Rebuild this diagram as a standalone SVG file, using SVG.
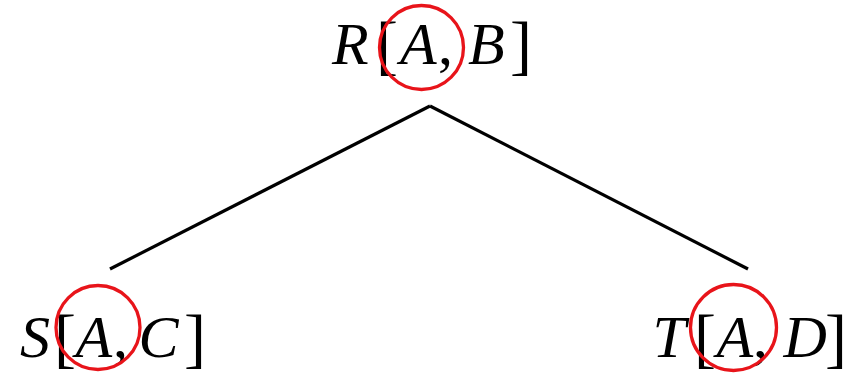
<svg xmlns="http://www.w3.org/2000/svg" width="846" height="373" viewBox="0 0 846 373">
<style>
.t{font-family:"Liberation Serif","Times New Roman",serif;font-size:60px;fill:#000}
.i{font-style:italic}
.b{font-size:66px}
.ring{fill:none;stroke:#e8141a;stroke-width:3.3}
.edge{stroke:#000;stroke-width:3.2;fill:none;stroke-linecap:butt}
</style>
<rect width="846" height="373" fill="#fff"/>
<g id="connectors">
<line class="edge" x1="430" y1="106" x2="110" y2="269"/>
<line class="edge" x1="430" y1="106" x2="748" y2="269"/>
</g>
<g id="R">
<text class="t" y="64"><tspan class="i" x="332">R</tspan><tspan class="b" x="376" y="67">[</tspan><tspan class="i" x="400" y="64">A</tspan><tspan x="438">,</tspan><tspan class="i" x="468">B</tspan><tspan class="b" x="510" y="67">]</tspan></text>
<circle class="ring" cx="421.5" cy="47.5" r="42"/>
</g>
<g id="S">
<text class="t" y="357"><tspan class="i" x="20">S</tspan><tspan class="b" x="54" y="360">[</tspan><tspan class="i" x="75.5" y="357">A</tspan><tspan x="113">,</tspan><tspan class="i" x="138.5">C</tspan><tspan class="b" x="184" y="360">]</tspan></text>
<circle class="ring" cx="98" cy="327.5" r="42"/>
</g>
<g id="T">
<text class="t" y="357"><tspan class="i" x="652.5">T</tspan><tspan class="b" x="694" y="360">[</tspan><tspan class="i" x="716.5" y="357">A</tspan><tspan x="753">,</tspan><tspan class="i" x="783.5">D</tspan><tspan class="b" x="825" y="360">]</tspan></text>
<circle class="ring" cx="733.5" cy="327.5" r="43"/>
</g>
</svg>
